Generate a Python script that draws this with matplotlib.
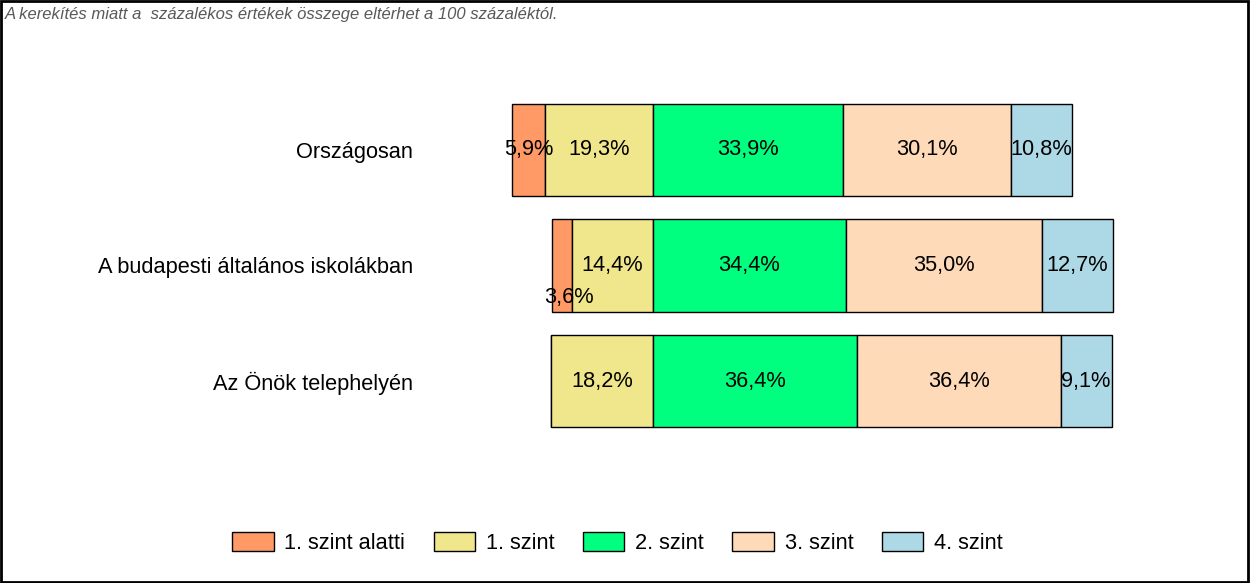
import numpy as np
import matplotlib.pyplot as plt
from matplotlib.patches import Rectangle

plt.rcParams['font.family'] = ['Liberation Sans', 'DejaVu Sans']

categories = ['Országosan', 'A budapesti általános iskolákban', 'Az Önök telephelyén']
level_names = ['1. szint alatti', '1. szint', '2. szint', '3. szint', '4. szint']
colors = ['#FF9966', '#F0E68C', '#00FF7F', '#FFDAB9', '#ADD8E6']

below1 = [5.9, 3.6, 0.0]
level1 = [19.3, 14.4, 18.2]
level2 = [33.9, 34.4, 36.4]
level3 = [30.1, 35.0, 36.4]
level4 = [10.8, 12.7, 9.1]

note = 'A kerekítés miatt a  százalékos értékek összege eltérhet a 100 százaléktól.'

fig = plt.figure(figsize=(12.5, 5.83), dpi=100)
# fekete keret a kép körül
fig.patches.append(Rectangle((0.001, 0.002), 0.997, 0.996, transform=fig.transFigure,
                             fill=False, edgecolor='black', linewidth=2))

W, H = 1250, 583
ax = fig.add_axes([420 / W, (583 - 438.75) / H, 820 / W, 346.5 / H])
px = 5.6  # pixel / százalék
ax.set_xlim(-(653 - 420) / px, (1240 - 653) / px)
ax.set_ylim(2.5, -0.5)

y = np.arange(len(categories))
b1 = np.array(below1)
l1 = np.array(level1)
right_vals = [level2, level3, level4]

bars = []
# bal oldal: 1. szint és alatta negatív irányba
bars.append(ax.barh(y, b1, left=-(l1 + b1), height=0.8, color=colors[0], edgecolor='black', linewidth=1))
bars.append(ax.barh(y, l1, left=-l1, height=0.8, color=colors[1], edgecolor='black', linewidth=1))
start = np.zeros(len(categories))
for i, vals in enumerate(right_vals):
    v = np.array(vals)
    bars.append(ax.barh(y, v, left=start, height=0.8, color=colors[i + 2], edgecolor='black', linewidth=1))
    start = start + v

fs = 15.7
for cont in bars:
    for rect in cont:
        w = rect.get_width()
        if w <= 0:
            continue
        cx = rect.get_x() + w / 2
        cy = rect.get_y() + rect.get_height() / 2
        label = f'{w:.1f}'.replace('.', ',') + '%'
        if w < 5:
            # túl keskeny: lejjebb kerül a felirat
            ax.annotate(label, (cx, cy), xytext=(7, -32), textcoords='offset pixels',
                        ha='center', va='center', fontsize=fs)
        else:
            ax.text(cx, cy, label, ha='center', va='center', fontsize=fs)

ax.set_yticks(y)
ax.set_yticklabels(categories, fontsize=fs)
ax.tick_params(axis='y', length=0, pad=5)
ax.set_xticks([])
for s in ax.spines.values():
    s.set_visible(False)

fig.text(5 / W, 1 - 14 / H, note, fontsize=12, style='italic', color='#595959', va='center', ha='left')

handles = [Rectangle((0, 0), 1, 1, facecolor=c, edgecolor='black', linewidth=1) for c in colors]
fig.legend(handles, level_names, loc='center', bbox_to_anchor=(0.494, 40 / H), ncol=5,
           frameon=False, fontsize=fs, handlelength=1.9, handleheight=1.0,
           handletextpad=0.5, columnspacing=1.3)

fig.savefig('out.png', dpi=100)
